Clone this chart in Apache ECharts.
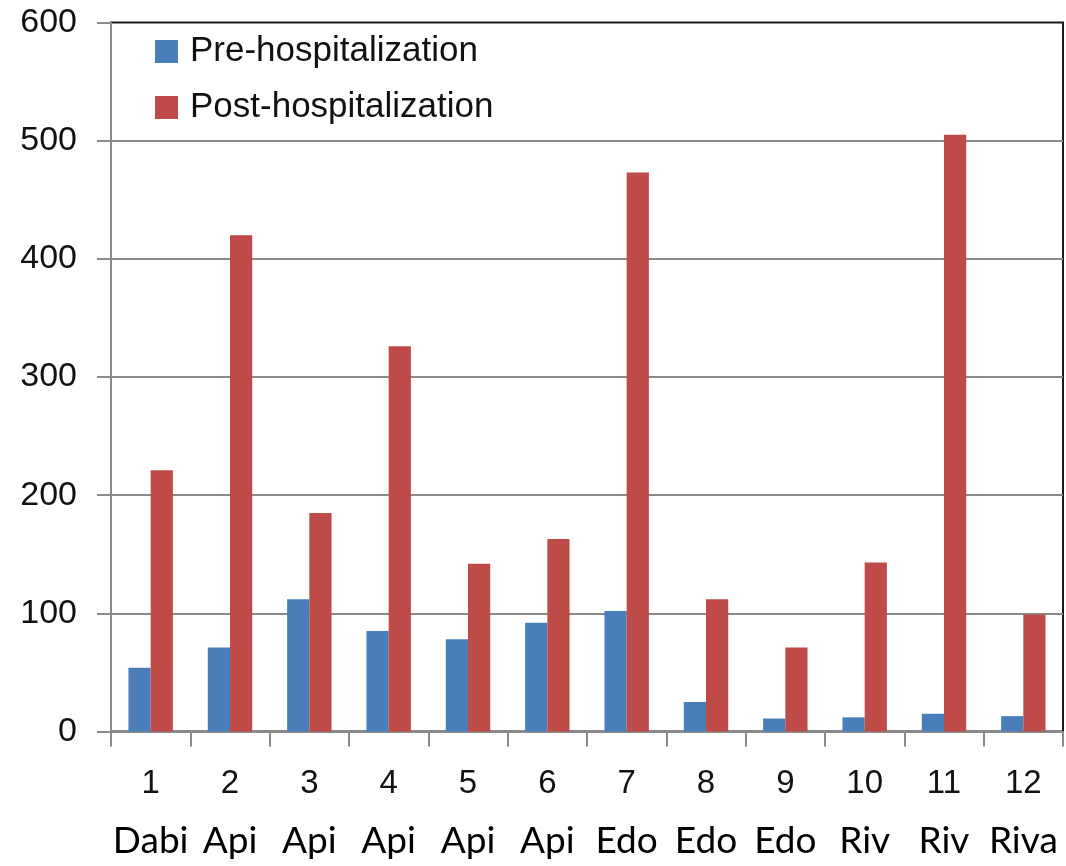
<!DOCTYPE html>
<html>
<head>
<meta charset="utf-8">
<script src="https://cdn.jsdelivr.net/npm/echarts@6/dist/echarts.min.js"></script>
<style>
  html, body { margin: 0; padding: 0; background: #fff; }
  #chart { width: 1066px; height: 866px; }
</style>
</head>
<body>
<div id="chart"></div>
<script>
// Patient numbers and drug names shown under each pair of bars
const patientNumbers = ['1', '2', '3', '4', '5', '6', '7', '8', '9', '10', '11', '12'];
const drugNames = ['Dabi', 'Api', 'Api', 'Api', 'Api', 'Api', 'Edo', 'Edo', 'Edo', 'Riv', 'Riv', 'Riva'];

// Values before and after hospitalization
const preHospitalization = [54, 71, 112, 85, 78, 92, 102, 25, 11, 12, 15, 13];
const postHospitalization = [221, 420, 185, 326, 142, 163, 473, 112, 71, 143, 505, 99];

// Value axis ticks
const yTicks = [0, 100, 200, 300, 400, 500, 600];

const axisGrey = '#8a8a8a';
const chart = echarts.init(document.getElementById('chart'), null, { renderer: 'canvas' });

chart.setOption({
  backgroundColor: '#ffffff',
  animation: false,
  grid: {
    left: 111,
    right: 3,
    top: 22.5,
    bottom: 134.5,
    show: true,
    borderColor: '#1a1a1a',
    borderWidth: 2,
    containLabel: false
  },
  legend: {
    orient: 'vertical',
    left: 150,
    top: 29,
    itemWidth: 23,
    itemHeight: 23,
    itemGap: 21,
    icon: 'rect',
    textStyle: {
      fontFamily: 'Liberation Sans',
      fontSize: 35,
      lineHeight: 35,
      color: '#111',
      padding: [0, 0, 0, 7]
    },
    data: ['Pre-hospitalization', 'Post-hospitalization']
  },
  xAxis: {
    type: 'category',
    data: patientNumbers.map((n, i) => n + '\n' + drugNames[i]),
    axisLine: { lineStyle: { color: axisGrey, width: 2 } },
    axisTick: { show: true, length: 15, lineStyle: { color: axisGrey, width: 2 } },
    axisLabel: {
      interval: 0,
      margin: 30,
      formatter: function (value) {
        const parts = value.split('\n');
        return '{n|' + parts[0] + '}\n{w|' + parts[1] + '}';
      },
      rich: {
        n: { fontFamily: 'Liberation Sans', fontSize: 33, lineHeight: 44, color: '#111' },
        w: { fontFamily: 'Lato', fontSize: 37, lineHeight: 72, color: '#000' }
      }
    }
  },
  yAxis: {
    type: 'value',
    min: yTicks[0],
    max: yTicks[yTicks.length - 1],
    interval: 100,
    axisLine: { show: true, lineStyle: { color: axisGrey, width: 2 } },
    axisTick: { show: true, length: 14, lineStyle: { color: axisGrey, width: 2 } },
    splitLine: { show: true, showMaxLine: false, lineStyle: { color: axisGrey, width: 2 } },
    axisLabel: {
      margin: 34,
      fontFamily: 'Liberation Sans',
      fontSize: 34,
      color: '#111'
    }
  },
  series: [
    {
      name: 'Pre-hospitalization',
      type: 'bar',
      data: preHospitalization,
      itemStyle: { color: '#4a7ebb' },
      barGap: '0%',
      barCategoryGap: '44%'
    },
    {
      name: 'Post-hospitalization',
      type: 'bar',
      data: postHospitalization,
      itemStyle: { color: '#be4b48' },
      barGap: '0%',
      barCategoryGap: '44%'
    }
  ]
});
</script>
</body>
</html>
